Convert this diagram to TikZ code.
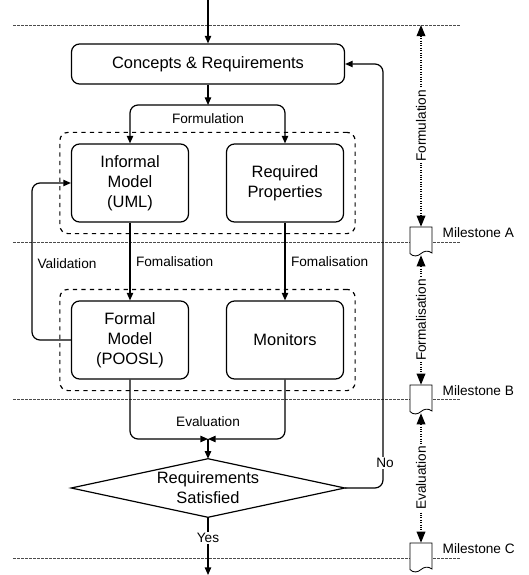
\documentclass[tikz,border=0pt]{standalone}
\usepackage{fontspec}
\setmainfont{Liberation Sans}
\usetikzlibrary{arrows.meta,fit}

\begin{document}
\begin{tikzpicture}[x=0.25mm,y=-0.25mm,
    >={Triangle[length=1.9mm,width=1.6mm]},
    flow/.style={line width=0.85pt},
    box/.style={draw,line width=0.85pt,rounded corners=2mm,align=center,
      font=\fontsize{11.7}{14.2}\selectfont,inner sep=0pt},
    group/.style={draw,dashed,line width=0.85pt,rounded corners=2mm,inner sep=2.75mm},
    lbl/.style={font=\fontsize{9.7}{11.5}\selectfont,inner sep=1pt},
    mline/.style={dash pattern=on 0.7mm off 0.3mm,line width=0.45pt,black!70},
    phase/.style={{Triangle[length=2.8mm,width=2.2mm,sep=0pt]}-{Triangle[length=2.8mm,width=2.2mm]},
      dash pattern=on 0.5pt off 1.2pt,line width=0.8pt},
    mstone/.style={minimum width=5.5mm,minimum height=7mm,inner sep=0pt}]
    \useasboundingbox (0,0) rectangle (528,575);

    % Milestone separators
    \foreach \y in {25,242,399,558}
        \draw[mline] (13,\y) -- (461,\y);

    % Main boxes
    \node[box,minimum width=68.25mm,minimum height=10mm] (concepts) at (208,64) {Concepts \& Requirements};
    \node[box,minimum width=29.25mm,minimum height=19.5mm] (informal) at (130,183) {Informal\\Model\\(UML)};
    \node[box,minimum width=29.25mm,minimum height=19.5mm] (required) at (285,183) {Required\\Properties};
    \node[box,minimum width=29.25mm,minimum height=19.5mm] (formal) at (130,340) {Formal\\Model\\(POOSL)};
    \node[box,minimum width=29.25mm,minimum height=19.5mm] (monitors) at (285,340) {Monitors};
    \node[group,fit=(informal)(required)] (grp1) {};
    \node[group,fit=(formal)(monitors)] (grp2) {};

    % Decision
    \node[align=center,inner sep=0pt,minimum width=68.25mm,minimum height=14.5mm,
      font=\fontsize{11.7}{14.2}\selectfont] (req) at (208,488) {Requirements\\Satisfied};
    \draw[flow] (req.west) -- (req.north) -- (req.east) -- (req.south) -- cycle;

    \coordinate (in) at (208,0);
    \coordinate (split) at (208,105);
    \coordinate (merge) at (208,439);
    \coordinate (out) at (208,575);

    % Flow
    \draw[flow,->] (in) -- (concepts);
    \draw[flow,->] (concepts) -- (split);
    \draw[flow,->,rounded corners=2mm] (split) -| (informal);
    \draw[flow,->,rounded corners=2mm] (split) -| (required);
    \node[lbl] (formlbl) at (208,119) {Formulation};

    \draw[flow,->] (informal) -- node[lbl,right=1mm] {Fomalisation} (formal);
    \draw[flow,->] (required) -- node[lbl,right=1mm] {Fomalisation} (monitors);
    \draw[flow,->,rounded corners=2mm] (formal.west) -- (32,340) |- (informal.west);
    \node[lbl] (vallbl) at (67,264) {Validation};

    \draw[flow,->,rounded corners=2mm] (formal) |- (merge);
    \draw[flow,->,rounded corners=2mm] (monitors) |- (merge);
    \node[lbl] (evallbl) at (208,422) {Evaluation};
    \draw[flow,->] (merge) -- (req);

    \draw[flow,->,rounded corners=2mm] (req.east) -- (383,488) -- (383,64) -- (concepts.east);
    \node[lbl,fill=white] (nolbl) at (385,463) {No};
    \draw[flow,->] (req) -- node[lbl,fill=white,pos=0.36] {Yes} (out);

    % Milestones
    \foreach \m/\y in {A/227,B/385,C/543} {
        \node[mstone] (ms\m) at (421,\y+14) {};
        \draw[line width=0.6pt,fill=white] (410,\y) -- (432,\y) -- (432,\y+26)
            .. controls (428,\y+23) and (424,\y+24) .. (421,\y+26.5)
            .. controls (418,\y+29.5) and (413,\y+30) .. (410,\y+26.5) -- cycle;
        \node[lbl,anchor=west] (lab\m) at (441,\y+6) {Milestone \m};
    }
    \coordinate (ftop) at (421,25);
    \draw[phase] (ftop) -- node[lbl,fill=white,rotate=90] {Formulation} (msA.north);
    \draw[phase] (msA.south) -- node[lbl,fill=white,rotate=90] {Formalisation} (msB.north);
    \draw[phase] (msB.south) -- node[lbl,fill=white,rotate=90] {Evaluation} (msC.north);

\end{tikzpicture}
\end{document}
